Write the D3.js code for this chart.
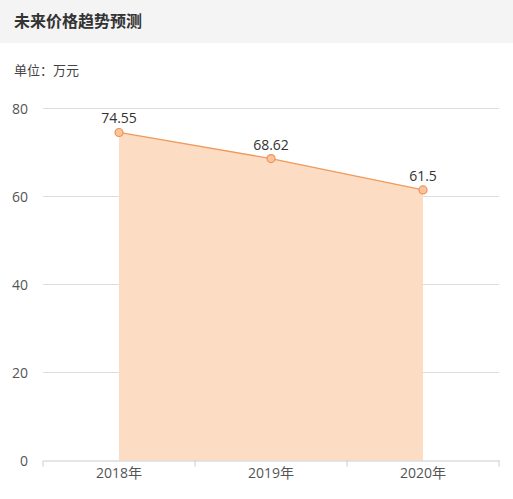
<!DOCTYPE html>
<html>
<head>
<meta charset="utf-8">
<script src="https://cdn.jsdelivr.net/npm/d3@7"></script>
<style>
  html, body { margin:0; padding:0; background:#fff; }
  body { width:513px; height:499px; overflow:hidden; font-family:"Open Sans","Noto Sans CJK SC",sans-serif; }
</style>
</head>
<body>
<svg id="chart" width="513" height="499"></svg>
<script>
var years = ['2018年', '2019年', '2020年'];
var prices = [74.55, 68.62, 61.5];
var yTicks = [0, 20, 40, 60, 80];

var svg = d3.select('#chart');
var font = '"Open Sans","Noto Sans CJK SC",sans-serif';

// header band
svg.append('rect').attr('x',0).attr('y',0).attr('width',513).attr('height',43).attr('fill','#f4f4f4');
svg.append('text').attr('x',14).attr('y',27)
  .attr('font-family','"Noto Sans CJK SC",sans-serif').attr('font-size',16).attr('font-weight','bold')
  .attr('fill','#333').text('未来价格趋势预测');
svg.append('text').attr('x',14).attr('y',75)
  .attr('font-family','"Noto Sans CJK SC",sans-serif').attr('font-size',13)
  .attr('fill','#444').text('单位：万元');

var margin = { left:43, right:499, top:108.5, bottom:460.5 };

var x = d3.scaleBand().domain(years).range([margin.left, margin.right]);
var y = d3.scaleLinear().domain([0, 80]).range([margin.bottom, margin.top]);

// grid
svg.append('g').selectAll('line').data(yTicks.filter(function(d){ return d > 0; }))
  .enter().append('line')
  .attr('x1', margin.left).attr('x2', margin.right)
  .attr('y1', function(d){ return y(d); }).attr('y2', function(d){ return y(d); })
  .attr('stroke','#ddd').attr('stroke-width',1);

// y labels
svg.append('g').selectAll('text').data(yTicks).enter().append('text')
  .attr('x', 28).attr('y', function(d){ return y(d) + 5; })
  .attr('text-anchor','end').attr('font-family',font).attr('font-size',14)
  .attr('fill','#555').text(function(d){ return d; });

// area + line
var cx = function(d, i){ return x(years[i]) + x.bandwidth()/2; };
var area = d3.area().x(cx).y0(y(0)).y1(function(d){ return y(d); });
var line = d3.line().x(cx).y(function(d){ return y(d); });

svg.append('path').datum(prices).attr('d', area).attr('fill','#fddcc4');
svg.append('path').datum(prices).attr('d', line)
  .attr('fill','none').attr('stroke','#ee9a5c').attr('stroke-width',1.3);

// x axis
var xAxis = d3.axisBottom(x).tickSize(0).tickPadding(8);
var gx = svg.append('g').attr('transform','translate(0,' + margin.bottom + ')').call(xAxis);
gx.select('.domain').attr('stroke','#ccc');
gx.selectAll('text').attr('font-family',font).attr('font-size',14).attr('fill','#555');
var bounds = years.map(function(d){ return x(d); }).concat([margin.right]);
gx.selectAll('line.sep').data(bounds).enter().append('line').attr('class','sep')
  .attr('x1', function(d){ return d; }).attr('x2', function(d){ return d; })
  .attr('y1', 0).attr('y2', 6).attr('stroke','#ccc');

// markers
svg.append('g').selectAll('circle').data(prices).enter().append('circle')
  .attr('cx', cx).attr('cy', function(d){ return y(d); }).attr('r', 4)
  .attr('fill','#fbc49c').attr('stroke','#ea945a').attr('stroke-width',1.2);

// value labels
svg.append('g').selectAll('text').data(prices).enter().append('text')
  .attr('x', cx).attr('y', function(d){ return y(d) - 9; })
  .attr('text-anchor','middle').attr('font-family',font).attr('font-size',14)
  .attr('fill','#333').text(function(d){ return d; });
</script>
</body>
</html>
